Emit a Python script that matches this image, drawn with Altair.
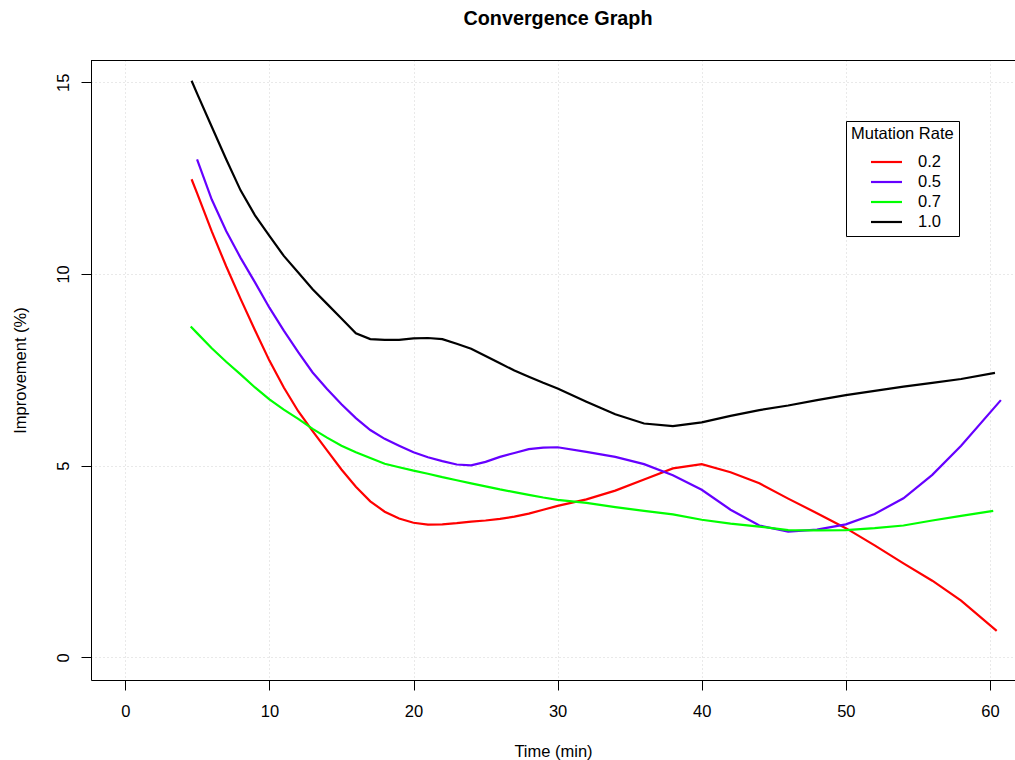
import altair as alt
import pandas as pd

# Sample times (minutes) shared by the middle part of every run
time_mid = [6, 7, 8, 9, 10, 11, 12, 13, 14, 15, 16, 17, 18, 19, 20, 21, 22, 23,
            24, 25, 26, 27, 28, 29, 30, 32, 34, 36, 38, 40, 42, 44, 46, 48, 50,
            52, 54, 56, 58]

# Mutation rate 0.2
time_02 = [4.6, 5] + time_mid + [60.47]
impr_02 = [12.47, 12.09, 11.11, 10.20, 9.35, 8.53, 7.74, 7.04, 6.42, 5.90, 5.40,
           4.90, 4.45, 4.07, 3.80, 3.62, 3.51, 3.46, 3.47, 3.50, 3.54, 3.57, 3.61,
           3.67, 3.75, 3.85, 3.95, 4.12, 4.35, 4.64, 4.93, 5.04, 4.83, 4.54, 4.14,
           3.76, 3.37, 2.92, 2.45, 2.00, 1.48, 0.69]

# Mutation rate 0.5
time_05 = [4.98] + time_mid + [60.76]
impr_05 = [12.99, 11.94, 11.12, 10.42, 9.78, 9.12, 8.52, 7.96, 7.43, 7.00, 6.60,
           6.24, 5.93, 5.70, 5.52, 5.35, 5.22, 5.12, 5.03, 5.01, 5.10, 5.23, 5.33,
           5.43, 5.47, 5.48, 5.36, 5.23, 5.04, 4.75, 4.37, 3.85, 3.44, 3.28, 3.33,
           3.47, 3.74, 4.15, 4.76, 5.52, 6.71]

# Mutation rate 0.7
time_07 = [4.54, 5] + time_mid + [60.23]
impr_07 = [8.63, 8.45, 8.06, 7.71, 7.38, 7.04, 6.73, 6.46, 6.22, 5.96, 5.73, 5.52,
           5.35, 5.20, 5.05, 4.96, 4.87, 4.79, 4.70, 4.62, 4.54, 4.46, 4.38, 4.31,
           4.24, 4.17, 4.11, 4.03, 3.92, 3.82, 3.73, 3.59, 3.49, 3.41, 3.32, 3.31,
           3.32, 3.37, 3.44, 3.57, 3.69, 3.82]

# Mutation rate 1.0
time_10 = [4.6, 5] + time_mid + [60.35]
impr_10 = [15.04, 14.69, 13.84, 12.99, 12.18, 11.53, 10.99, 10.47, 10.04, 9.60,
           9.22, 8.84, 8.45, 8.30, 8.28, 8.28, 8.32, 8.33, 8.30, 8.18, 8.05, 7.86,
           7.67, 7.48, 7.32, 7.16, 7.01, 6.67, 6.34, 6.10, 6.03, 6.13, 6.30, 6.45,
           6.57, 6.71, 6.84, 6.95, 7.06, 7.16, 7.26, 7.42]

rates = ["0.2", "0.5", "0.7", "1.0"]
colors = ["#FF0000", "#6600FF", "#00FF00", "#000000"]
x_ticks = [0, 10, 20, 30, 40, 50, 60]
y_ticks = [0, 5, 10, 15]
x_range = [-2.38, 61.74]
y_range = [-0.59, 15.58]

series = [(rates[0], time_02, impr_02), (rates[1], time_05, impr_05),
          (rates[2], time_07, impr_07), (rates[3], time_10, impr_10)]
df = pd.concat(
    [pd.DataFrame({"time": t, "improvement": v, "rate": r}) for r, t, v in series],
    ignore_index=True,
)

FONT = "Liberation Sans"
FS = 16.5

lines = alt.Chart(df).mark_line(strokeWidth=2.2).encode(
    x=alt.X(
        "time:Q",
        scale=alt.Scale(domain=x_range, nice=False, zero=False),
        axis=alt.Axis(
            values=x_ticks, title="Time (min)", titleY=76,
            titleBaseline="alphabetic", labelPadding=13,
        ),
    ),
    y=alt.Y(
        "improvement:Q",
        scale=alt.Scale(domain=y_range, nice=False, zero=False),
        axis=alt.Axis(
            values=y_ticks, title="Improvement (%)", labelAngle=270,
            labelAlign="center", labelBaseline="alphabetic", labelPadding=13,
            titleAngle=270, titleX=-66, titleBaseline="alphabetic",
        ),
    ),
    color=alt.Color(
        "rate:N",
        scale=alt.Scale(domain=rates, range=colors),
        legend=alt.Legend(
            title="Mutation Rate", orient="none", legendX=755, legendY=61,
            direction="vertical",
            strokeColor="black", fillColor="white", padding=5, cornerRadius=0,
            titleFontWeight="normal", titleFontSize=FS, titleColor="black",
            titleFont=FONT, titlePadding=8,
            labelFontSize=FS, labelColor="black", labelFont=FONT,
            symbolType="M-1.55,0H1.55", symbolSize=400, symbolStrokeWidth=2.2,
            symbolOffset=24, labelOffset=20, rowPadding=-2,
        ),
    ),
)

# Upper edge of the plot frame
top_edge = alt.Chart(pd.DataFrame({"edge": [y_range[1]]})).mark_rule(
    color="black", strokeWidth=1, yOffset=0.5
).encode(y=alt.Y("edge:Q", scale=alt.Scale(domain=y_range, nice=False, zero=False)))

chart = alt.layer(lines, top_edge).properties(
    width=924,
    height=620,
    background="white",
    autosize=alt.AutoSizeParams(type="none"),
    padding={"left": 91, "top": 60, "right": 0, "bottom": 80},
    title=alt.TitleParams(
        "Convergence Graph", font=FONT, fontSize=19.8, fontWeight="bold",
        color="black", anchor="middle", frame="group", dx=5,
        baseline="alphabetic", offset=15,
    ),
).configure_view(stroke=None).configure_axis(
    labelFont=FONT, labelFontSize=FS, labelColor="black",
    titleFont=FONT, titleFontSize=FS, titleColor="black", titleFontWeight="normal",
    domainColor="black", domainWidth=1, tickColor="black", tickWidth=1, tickSize=10,
    gridColor="#D3D3D3", gridDash=[1, 3], gridWidth=1,
    labelFlush=False, labelOverlap=False,
)

chart.save("out.html", embed_options={"renderer": "svg", "actions": False})
